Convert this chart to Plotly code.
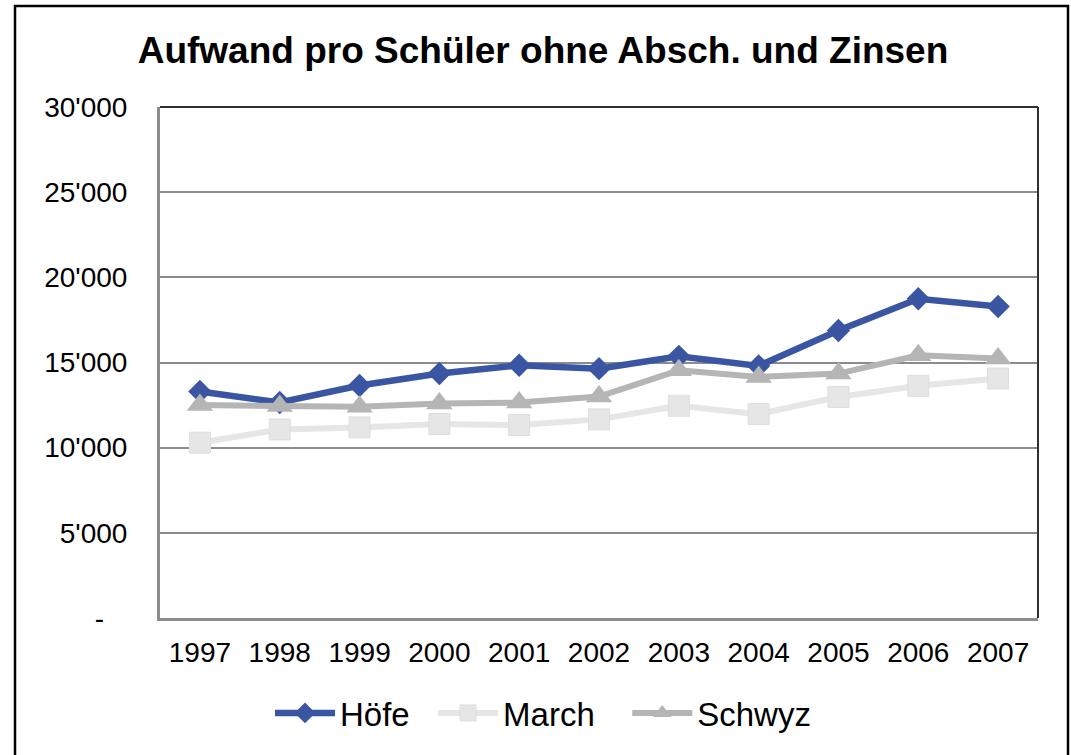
import plotly.graph_objects as go

years = ["1997", "1998", "1999", "2000", "2001", "2002", "2003", "2004", "2005", "2006", "2007"]
hoefe = [13300, 12650, 13650, 14350, 14840, 14640, 15360, 14800, 16880, 18740, 18290]
march = [10290, 11070, 11190, 11390, 11330, 11660, 12460, 11970, 12980, 13630, 14060]
schwyz = [12500, 12440, 12400, 12600, 12650, 13000, 14540, 14150, 14350, 15420, 15230]

y_tickvals = [0, 5000, 10000, 15000, 20000, 25000, 30000]
y_ticktext = ["-\u00a0\u00a0\u00a0", "5'000", "10'000", "15'000", "20'000", "25'000", "30'000"]

title_text = "Aufwand pro Schüler ohne Absch. und Zinsen"

FONT = "Liberation Sans, Arial, sans-serif"
NB = "\u00a0"

fig = go.Figure()
fig.add_trace(go.Scatter(
    x=years, y=hoefe, name="Höfe" + NB * 2, mode="lines+markers",
    line=dict(color="#3A56A2", width=6.5),
    marker=dict(symbol="diamond", size=18, color="#3A56A2"),
))
fig.add_trace(go.Scatter(
    x=years, y=march, name="March" + NB * 3, mode="lines+markers",
    line=dict(color="#E6E6E6", width=6),
    marker=dict(symbol="square", size=21, color="#E6E6E6", line=dict(color="#DEDEDE", width=1)),
))
fig.add_trace(go.Scatter(
    x=years, y=schwyz, name="Schwyz", mode="lines+markers",
    line=dict(color="#B5B5B5", width=6),
    marker=dict(symbol="triangle-up", size=23, color="#B5B5B5"),
))

W, H = 1071, 755
L, R, T, B = 160, 1038, 107, 618
pw, ph = R - L, B - T

def px(x):
    return (x - L) / pw

def py(y):
    return (B - y) / ph

fig.update_layout(
    width=W, height=H,
    margin=dict(l=L, r=W - R, t=T, b=H - B),
    paper_bgcolor="white", plot_bgcolor="white",
    font=dict(family=FONT, color="black"),
    title=dict(
        text="<b>" + title_text + "</b>",
        font=dict(size=37, family=FONT, color="black"),
        x=px(543), xref="paper", xanchor="center",
        y=1 - 50 / H, yref="container", yanchor="middle",
    ),
    showlegend=True,
    legend=dict(
        orientation="h", x=px(543), xanchor="center", y=py(713), yanchor="middle",
        font=dict(size=33, family=FONT, color="black"),
        itemwidth=60, bgcolor="rgba(0,0,0,0)",
    ),
    xaxis=dict(
        type="category", range=[-0.5, 10.5],
        showgrid=False, showline=True, linecolor="#8C8C8C", linewidth=3,
        ticks="", tickfont=dict(size=28, family=FONT, color="black"),
        ticklabelstandoff=7, zeroline=False,
    ),
    yaxis=dict(
        range=[0, 30000], tickvals=y_tickvals, ticktext=y_ticktext,
        showgrid=True, gridcolor="#8C8C8C", gridwidth=2,
        showline=True, linecolor="#8C8C8C", linewidth=3,
        ticks="", tickfont=dict(size=28, family=FONT, color="black"),
        ticklabelstandoff=24, zeroline=False,
    ),
    shapes=[
        dict(type="line", xref="paper", yref="paper", x0=0, x1=1, y0=1, y1=1,
             line=dict(color="#303030", width=2)),
        dict(type="line", xref="paper", yref="paper", x0=1, x1=1, y0=0, y1=1,
             line=dict(color="#303030", width=2)),
        dict(type="rect", xref="paper", yref="paper",
             x0=px(15), x1=px(1068), y0=py(770), y1=py(6),
             line=dict(color="black", width=2.5), fillcolor="rgba(0,0,0,0)", layer="below"),
    ],
)

fig.write_html("out.html", config={"displayModeBar": False},
               post_script="document.body.style.margin='0';")
